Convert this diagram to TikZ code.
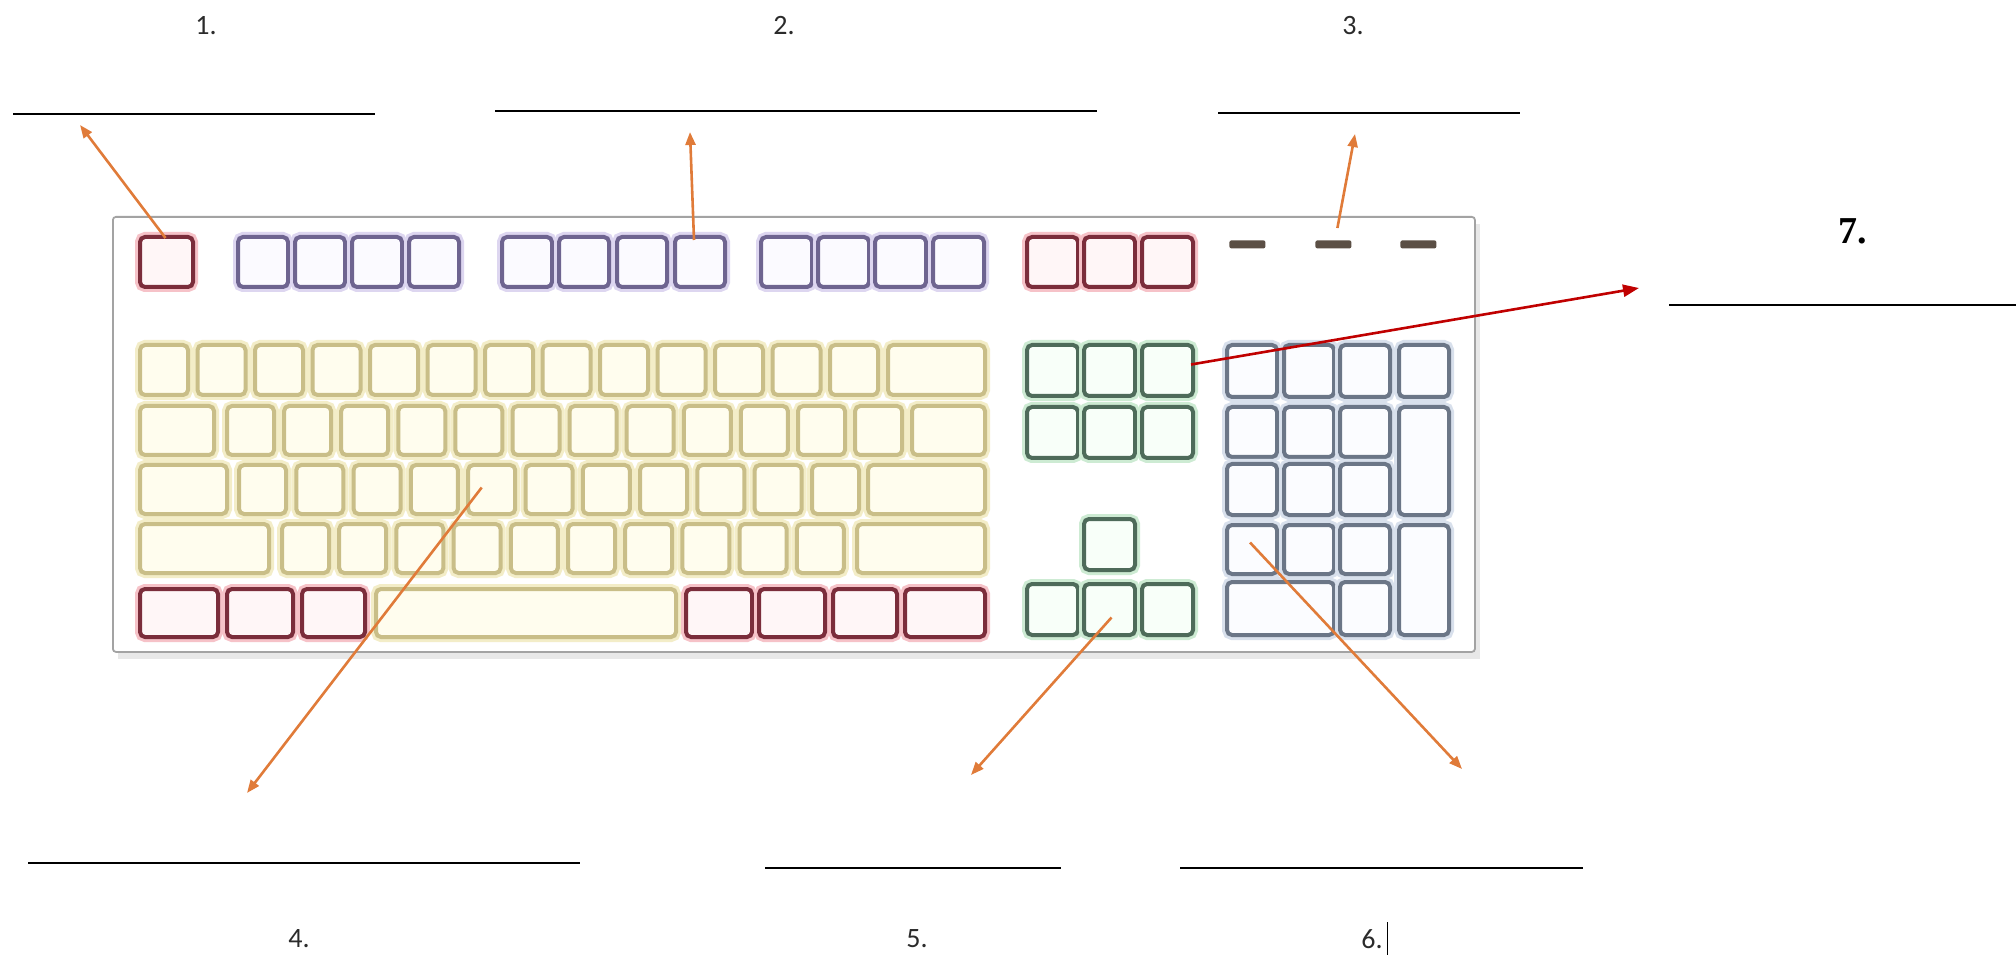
\documentclass[tikz,border=0pt]{standalone}
\usepackage{fontspec}
\setmainfont{Carlito}
\newfontfamily\timesfont{Liberation Serif}
\usetikzlibrary{calc,arrows.meta}
\definecolor{redB}{HTML}{7B2D3B}
\definecolor{redG}{HTML}{F6C2C8}
\definecolor{redF}{HTML}{FFF6F7}
\definecolor{purB}{HTML}{6E6490}
\definecolor{purG}{HTML}{DDD6F0}
\definecolor{purF}{HTML}{FBFAFF}
\definecolor{yelB}{HTML}{C9BE88}
\definecolor{yelG}{HTML}{F3EDC8}
\definecolor{yelF}{HTML}{FFFDEE}
\definecolor{grnB}{HTML}{4E6B5A}
\definecolor{grnG}{HTML}{CDEBD3}
\definecolor{grnF}{HTML}{F8FFF9}
\definecolor{bluB}{HTML}{6B7687}
\definecolor{bluG}{HTML}{D8E0EC}
\definecolor{bluF}{HTML}{FBFCFF}
\definecolor{ledC}{HTML}{5B4F45}
\definecolor{frameC}{HTML}{A3A3A3}
\definecolor{arrO}{HTML}{E07B39}
\definecolor{arrR}{HTML}{C00000}
\definecolor{txtC}{HTML}{2B2B2B}
\newcommand\kk[6]{\node[#2, minimum width={(#5)*0.5pt}, minimum height={(#6)*0.5pt}, anchor=north west] (#1) at ({#3},{#4}) {};}
\begin{document}
\begin{tikzpicture}[x=0.5pt,y=-0.5pt,
  keybase/.style={rectangle, rounded corners=2.5pt, inner sep=0pt, line width=2pt},
  kred/.style={keybase, draw=redB, fill=redF, preaction={draw=redG, line width=5pt}},
  kpur/.style={keybase, draw=purB, fill=purF, preaction={draw=purG, line width=5pt}},
  kyel/.style={keybase, draw=yelB, fill=yelF, preaction={draw=yelG, line width=5pt}},
  kgrn/.style={keybase, draw=grnB, fill=grnF, preaction={draw=grnG, line width=5pt}},
  kblu/.style={keybase, draw=bluB, fill=bluF, preaction={draw=bluG, line width=5pt}},
  ledkey/.style={rectangle, rounded corners=1pt, inner sep=0pt, fill=ledC, draw=none},
  frame/.style={rectangle, rounded corners=1.5pt, inner sep=0pt, draw=frameC, line width=0.9pt, fill=white},
  lab/.style={font=\fontsize{14}{16}\selectfont, text=txtC, inner sep=0pt},
  ansline/.style={line width=1.2pt, black},
  oarrow/.style={draw=arrO, line width=1.3pt, -{Triangle[length=6.5pt,width=5pt]}},
  rarrow/.style={draw=arrR, line width=1.3pt, -{Triangle[length=8pt,width=6pt]}}
]
\useasboundingbox (0,0) rectangle (2016,956);
% keyboard frame with shadow
\fill[gray!18] (118,224) rectangle (1480,659);
\node[frame, minimum width={1362*0.5pt}, minimum height={435*0.5pt}, anchor=north west] (kb) at (112,216) {};
% top row
\kk{esc}{kred}{138}{235}{53}{50}
\foreach \x [count=\i] in {236,293,350,407} {\kk{fa\i}{kpur}{\x}{235}{50}{50}}
\foreach \x [count=\i] in {500,557,615,673} {\kk{fb\i}{kpur}{\x}{235}{50}{50}}
\foreach \x [count=\i] in {759,816,873,931} {\kk{fc\i}{kpur}{\x}{235}{51}{50}}
\foreach \x [count=\i] in {1025,1082,1140} {\kk{sp\i}{kred}{\x}{235}{51}{50}}
\foreach \x [count=\i] in {1229,1315,1400} {\node[ledkey, minimum width={36*0.5pt}, minimum height={8*0.5pt}, anchor=north west] (led\i) at (\x,240) {};}
% number row
\foreach \i in {0,...,12} {\kk{ra\i}{kyel}{138+57.5*\i}{343}{48}{50}}
\kk{bksp}{kyel}{886}{343}{97}{50}
% row 2
\kk{tab}{kyel}{138}{404}{74}{49}
\foreach \i in {0,...,11} {\kk{rb\i}{kyel}{225+57.1*\i}{404}{47}{49}}
\kk{bsl}{kyel}{910}{404}{73}{49}
% row 3
\kk{caps}{kyel}{138}{463}{87}{49}
\foreach \i in {0,...,10} {\kk{rc\i}{kyel}{237+57.3*\i}{463}{47}{49}}
\kk{ent}{kyel}{866}{463}{117}{49}
% row 4
\kk{lsh}{kyel}{138}{522}{129}{49}
\foreach \i in {0,...,9} {\kk{rd\i}{kyel}{280+57.2*\i}{522}{47}{49}}
\kk{rsh}{kyel}{855}{522}{128}{49}
% row 5
\kk{lctl}{kred}{138}{587}{78}{48}
\kk{lwin}{kred}{225}{587}{66}{48}
\kk{lalt}{kred}{300}{587}{63}{48}
\kk{space}{kyel}{374}{587}{300}{48}
\kk{ralt}{kred}{684}{587}{66}{48}
\kk{rwin}{kred}{757}{587}{66}{48}
\kk{menu}{kred}{831}{587}{64}{48}
\kk{rctl}{kred}{903}{587}{80}{48}
% navigation cluster
\foreach \x [count=\i] in {1025,1082,1140} {
  \kk{nava\i}{kgrn}{\x}{343}{51}{51}
  \kk{navb\i}{kgrn}{\x}{405}{51}{51}
  \kk{arr\i}{kgrn}{\x}{582}{51}{51}
}
\kk{up}{kgrn}{1082}{517}{51}{51}
% numeric pad
\foreach \x [count=\i] in {1225,1282,1338,1397} {\kk{npa\i}{kblu}{\x}{343}{50}{52}}
\foreach \x [count=\i] in {1225,1282,1338} {
  \kk{npb\i}{kblu}{\x}{405}{50}{50}
  \kk{npc\i}{kblu}{\x}{462}{50}{51}
  \kk{npd\i}{kblu}{\x}{523}{50}{49}
}
\kk{npplus}{kblu}{1397}{405}{50}{108}
\kk{npent}{kblu}{1397}{523}{50}{110}
\kk{npzero}{kblu}{1225}{580}{107}{53}
\kk{npdot}{kblu}{1338}{580}{50}{53}
% answer lines
\draw[ansline] (13,114) -- (375,114);
\draw[ansline] (495,111) -- (1097,111);
\draw[ansline] (1218,113) -- (1520,113);
\draw[ansline] (28,863) -- (580,863);
\draw[ansline] (765,868) -- (1061,868);
\draw[ansline] (1180,868) -- (1583,868);
\draw[ansline] (1669,305) -- (2016,305);
% labels
\node[lab] (l1) at (206,26) {1.};
\node[lab] (l2) at (784,26) {2.};
\node[lab] (l3) at (1353,26) {3.};
\node[lab] (l4) at (299,939) {4.};
\node[lab] (l5) at (917,939) {5.};
\node[lab] (l6) at (1372,939) {6.};
\draw[line width=0.5pt, black] (1387,922) -- (1387,955);
\node[font=\timesfont\bfseries\fontsize{19}{22}\selectfont, inner sep=0pt] (l7) at (1853,231) {7.};
% arrow ends
\coordinate (e1) at (80,125);
\coordinate (e2) at (690,132);
\coordinate (e3) at (1355,134);
\coordinate (e4) at (247,793);
\coordinate (e5) at (971,775);
\coordinate (e6) at (1462,769);
\coordinate (e7) at (1639,288);
% arrows
\draw[oarrow] ($(esc.north)+(-1,3)$) -- (e1);
\draw[oarrow] ($(fb4.north)+(-6,5)$) -- (e2);
\draw[oarrow] ($(led2.north)+(4,-12)$) -- (e3);
\draw[oarrow] ($(rc4.center)+(-10,-2)$) -- (e4);
\draw[oarrow] ($(arr2.center)+(2,8)$) -- (e5);
\draw[oarrow] ($(npd1.center)+(-2,-7)$) -- (e6);
\draw[rarrow] ($(nava3.east)+(-4,-6)$) -- (e7);
\end{tikzpicture}
\end{document}
